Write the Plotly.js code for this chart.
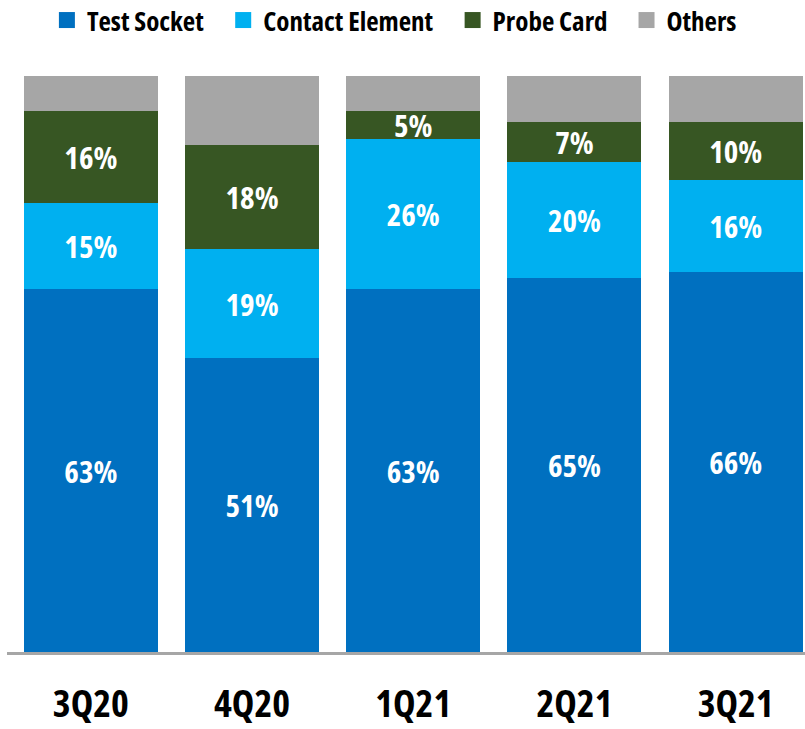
<!DOCTYPE html>
<html>
<head>
<meta charset="utf-8">
<script src="https://cdn.plot.ly/plotly-3.0.1.min.js"></script>
<style>
html,body{margin:0;padding:0;background:#fff;}
#chart{width:805px;height:729px;}
text{font-stretch:condensed !important;}
</style>
</head>
<body>
<div id="chart"></div>
<script>
const categories = ["3Q20", "4Q20", "1Q21", "2Q21", "3Q21"];
const testSocket = [63, 51, 63, 65, 66];
const contactElement = [15, 19, 26, 20, 16];
const probeCard = [16, 18, 5, 7, 10];
const others = [6, 12, 6, 8, 8];

const FONT = "'Open Sans', sans-serif";

function mk(name, vals, color, labels) {
  return {
    type: 'bar', name: name, x: categories, y: vals,
    marker: {color: color, line: {width: 0}},
    text: labels ? vals.map(v => v + '%') : undefined,
    textposition: labels ? 'inside' : 'none',
    insidetextanchor: 'middle',
    textangle: 0,
    constraintext: 'none',
    textfont: {family: FONT, size: 31, color: '#ffffff', weight: 'bold'},
    hoverinfo: 'skip'
  };
}

const data = [
  mk('Test Socket', testSocket, '#0070c0', true),
  mk('Contact Element', contactElement, '#00b0f0', true),
  mk('Probe Card', probeCard, '#375623', true),
  mk('Others', others, '#a6a6a6', false)
];

const layout = {
  width: 805, height: 729,
  margin: {l: 7, r: 0, t: 76, b: 77, autoexpand: false},
  barmode: 'stack',
  bargap: 0.169,
  paper_bgcolor: '#ffffff', plot_bgcolor: '#ffffff',
  font: {family: FONT, color: '#000000'},
  xaxis: {
    type: 'category', range: [-0.52, 4.43],
    showline: true, linecolor: '#a6a6a6', linewidth: 3,
    ticks: '', showgrid: false, zeroline: false,
    tickfont: {family: FONT, size: 38, color: '#000000', weight: 'bold'},
    ticklabelstandoff: 16
  },
  yaxis: {
    range: [0, 100], visible: false, showgrid: false, zeroline: false
  },
  showlegend: true,
  legend: {
    orientation: 'h', xref: 'paper', yref: 'paper',
    x: 0.05, y: 1.1389, xanchor: 'left', yanchor: 'top',
    font: {family: FONT, size: 27, color: '#000000', weight: 'bold'},
    traceorder: 'normal', itemwidth: 30
  }
};

// Extra spacing between legend entries and larger swatches, as in the original
function tuneLegend(gd) {
  gd.querySelectorAll('.legend [clip-path]').forEach(function (e) {
    e.removeAttribute('clip-path');
  });
  const items = gd.querySelectorAll('.legend .traces');
  items.forEach(function (g, i) {
    if (g.getAttribute('data-tuned')) return;
    const t = g.getAttribute('transform') || '';
    const m = t.match(/translate\(\s*([-\d.]+)[ ,]+([-\d.]+)\s*\)/);
    if (m) {
      const nx = parseFloat(m[1]) + i * 14;
      g.setAttribute('transform', 'translate(' + nx + ',' + m[2] + ')');
    }
    g.querySelectorAll('path').forEach(function (p) {
      p.setAttribute('d', 'M8,8H-8V-8H8Z');
    });
    g.setAttribute('data-tuned', '1');
  });
}

Plotly.newPlot('chart', data, layout, {displayModeBar: false, staticPlot: true}).then(function (gd) {
  tuneLegend(gd);
  requestAnimationFrame(function () { tuneLegend(gd); });
});
</script>
</body>
</html>
